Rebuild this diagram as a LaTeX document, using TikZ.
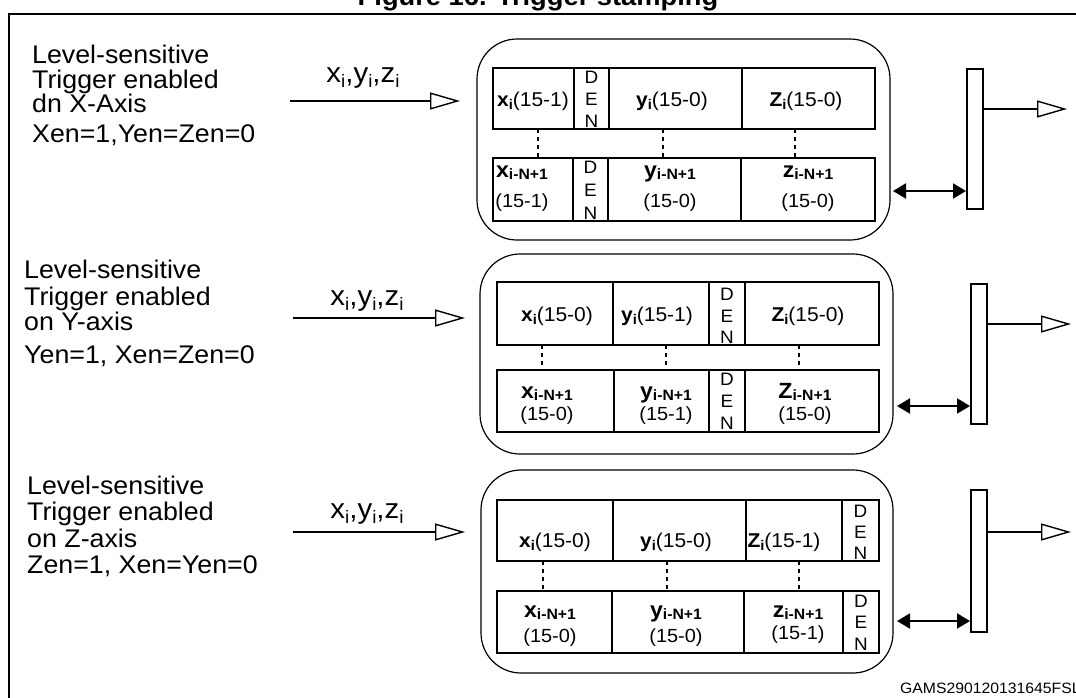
\documentclass[tikz,border=0pt]{standalone}
\usepackage{fontspec}
\setmainfont{Liberation Sans}[FakeStretch=1.05]
\usetikzlibrary{arrows.meta}
\newcommand{\vx}[2]{{\bfseries #1}\raisebox{-3.5pt}{\fontsize{14}{14}\selectfont\bfseries #2}}
\newcommand{\vxx}[2]{{\fontsize{22}{22}\selectfont\bfseries #1}\raisebox{-2.5pt}{\fontsize{15}{15}\selectfont\bfseries #2}}
\newcommand{\ri}{\raisebox{-5pt}{\fontsize{18}{18}\selectfont i}}
\tikzset{
  rowline/.style={draw, line width=2pt},
  rbox/.style={draw, line width=1.2pt, rounded corners=40pt},
  dots/.style={line width=2pt, dash pattern=on 4pt off 4pt},
  inarrow/.style={line width=1.4pt, -{Triangle[open,length=30pt,width=17pt,line width=1.4pt]}},
  dblarrow/.style={line width=2pt, {Triangle[length=13pt,width=15pt]}-{Triangle[length=13pt,width=15pt]}},
  barbox/.style={draw, line width=2pt, minimum width=16pt, inner sep=0pt},
  lbl/.style={font=\fontsize{25.5}{25}\selectfont, anchor=base west, inner sep=0pt},
  arrlbl/.style={font=\fontsize{28}{28}\selectfont, anchor=base, inner sep=0pt},
  celltop/.style={font=\fontsize{20}{20}\selectfont, anchor=base, inner sep=0pt},
  cellbot/.style={font=\fontsize{19}{19}\selectfont, anchor=base, inner sep=0pt},
  den/.style={font=\fontsize{18}{18}\selectfont, anchor=base, inner sep=0pt},
}
\begin{document}
\begin{tikzpicture}[x=1pt,y=-1pt]
\useasboundingbox (0,0) rectangle (1076,697);
\clip (0,0) rectangle (1076,697);
% title and frame
\node[font=\fontsize{26}{26}\selectfont\bfseries, anchor=base, inner sep=0pt] (title) at (538,5) {Figure 16. Trigger stamping};
\draw[line width=2.5pt] (9,720) -- (9,14) -- (1090,14);
\node[font=\fontsize{15}{15}\selectfont, anchor=base west, inner sep=0pt] (code) at (900,693) {GAMS290120131645FSL};

% ================= Panel 1 =================
\node[lbl] (l1a) at (32,63) {Level-sensitive};
\node[lbl] (l1b) at (32,88) {Trigger enabled};
\node[lbl] (l1c) at (32,112) {dn X-Axis};
\node[lbl] (l1d) at (32,142) {Xen=1,Yen=Zen=0};
\coordinate (i1s) at (290,101);
\coordinate (i1e) at (460,101);
\draw[inarrow] (i1s) -- (i1e);
\node[arrlbl] (a1) at (363,82) {x\ri,y\ri,z\ri};
\draw[rbox] (477,39) rectangle (890,240);
\draw[rowline] (493,68) rectangle (875,129);
\draw[rowline] (574,68) -- (574,129) (609,68) -- (609,129) (742,68) -- (742,129);
\draw[rowline] (493,158) rectangle (875,221);
\draw[rowline] (573,158) -- (573,221) (608,158) -- (608,221) (741,158) -- (741,221);
\draw[dots] (538,129) -- (538,158) (663,129) -- (663,158) (795,129) -- (795,158);
\node[celltop] (c1t1) at (533,106) {\vx{x}{i}(15-1)};
\node[den] (c1t2a) at (591.5,83) {D};
\node[den] (c1t2b) at (591.5,105) {E};
\node[den] (c1t2c) at (591.5,127) {N};
\node[celltop] (c1t3) at (672,106) {\vx{y}{i}(15-0)};
\node[celltop] (c1t4) at (806,106) {\vx{Z}{i}(15-0)};
\node[cellbot] (c1b1a) at (522,177) {\vxx{x}{i-N+1}};
\node[cellbot] (c1b1b) at (522,207) {(15-1)};
\node[den] (c1b2a) at (590.5,173) {D};
\node[den] (c1b2b) at (590.5,196) {E};
\node[den] (c1b2c) at (590.5,219) {N};
\node[cellbot] (c1b3a) at (670,177) {\vxx{y}{i-N+1}};
\node[cellbot] (c1b3b) at (670,207) {(15-0)};
\node[cellbot] (c1b4a) at (808,177) {\vxx{z}{i-N+1}};
\node[cellbot] (c1b4b) at (808,207) {(15-0)};
\node[barbox, minimum height=140pt] (bar1) at (975,139) {};
\coordinate (d1) at (893,191);
\draw[dblarrow] (d1) -- (bar1.west |- d1);
\coordinate (o1) at (1067,109);
\draw[inarrow] (bar1.east |- o1) -- (o1);

% ================= Panel 2 =================
\node[lbl] (l2a) at (24,278) {Level-sensitive};
\node[lbl] (l2b) at (24,305) {Trigger enabled};
\node[lbl] (l2c) at (24,330) {on Y-axis};
\node[lbl] (l2d) at (24,363) {Yen=1, Xen=Zen=0};
\coordinate (i2s) at (293,318);
\coordinate (i2e) at (465,318);
\draw[inarrow] (i2s) -- (i2e);
\node[arrlbl] (a2) at (367,305) {x\ri,y\ri,z\ri};
\draw[rbox] (480,254) rectangle (893,454);
\draw[rowline] (497,282) rectangle (879,345);
\draw[rowline] (613,282) -- (613,345) (709,282) -- (709,345) (745,282) -- (745,345);
\draw[rowline] (497,370) rectangle (879,432);
\draw[rowline] (614,370) -- (614,432) (709,370) -- (709,432) (745,370) -- (745,432);
\draw[dots] (542,345) -- (542,370) (666,345) -- (666,370) (799,345) -- (799,370);
\node[celltop] (c2t1) at (557,321) {\vx{x}{i}(15-0)};
\node[celltop] (c2t2) at (657,321) {\vx{y}{i}(15-1)};
\node[den] (c2t3a) at (727,300) {D};
\node[den] (c2t3b) at (727,322) {E};
\node[den] (c2t3c) at (727,343) {N};
\node[celltop] (c2t4) at (808,321) {\vx{Z}{i}(15-0)};
\node[cellbot] (c2b1a) at (547,398) {\vxx{x}{i-N+1}};
\node[cellbot] (c2b1b) at (547,420) {(15-0)};
\node[cellbot] (c2b2a) at (666,398) {\vxx{y}{i-N+1}};
\node[cellbot] (c2b2b) at (666,420) {(15-1)};
\node[den] (c2b3a) at (727,385) {D};
\node[den] (c2b3b) at (727,407) {E};
\node[den] (c2b3c) at (727,429) {N};
\node[cellbot] (c2b4a) at (805,398) {\vxx{Z}{i-N+1}};
\node[cellbot] (c2b4b) at (805,420) {(15-0)};
\node[barbox, minimum height=140pt] (bar2) at (979,354) {};
\coordinate (d2) at (897,406);
\draw[dblarrow] (d2) -- (bar2.west |- d2);
\coordinate (o2) at (1071,324);
\draw[inarrow] (bar2.east |- o2) -- (o2);

% ================= Panel 3 =================
\node[lbl] (l3a) at (27,494) {Level-sensitive};
\node[lbl] (l3b) at (27,520) {Trigger enabled};
\node[lbl] (l3c) at (27,547) {on Z-axis};
\node[lbl] (l3d) at (27,573) {Zen=1, Xen=Yen=0};
\coordinate (i3s) at (293,532);
\coordinate (i3e) at (465,532);
\draw[inarrow] (i3s) -- (i3e);
\node[arrlbl] (a3) at (367,518) {x\ri,y\ri,z\ri};
\draw[rbox] (481,470) rectangle (893,673);
\draw[rowline] (497,500) rectangle (879,561);
\draw[rowline] (613,500) -- (613,561) (746,500) -- (746,561) (842,500) -- (842,561);
\draw[rowline] (497,591) rectangle (879,653);
\draw[rowline] (612,591) -- (612,653) (744,591) -- (744,653) (843,591) -- (843,653);
\draw[dots] (543,561) -- (543,591) (667,561) -- (667,591) (799,561) -- (799,591);
\node[celltop] (c3t1) at (555,547) {\vx{x}{i}(15-0)};
\node[celltop] (c3t2) at (676,547) {\vx{y}{i}(15-0)};
\node[celltop] (c3t3) at (784,547) {\vx{Z}{i}(15-1)};
\node[den] (c3t4a) at (860.5,517) {D};
\node[den] (c3t4b) at (860.5,538) {E};
\node[den] (c3t4c) at (860.5,559) {N};
\node[cellbot] (c3b1a) at (550,617) {\vxx{x}{i-N+1}};
\node[cellbot] (c3b1b) at (550,642) {(15-0)};
\node[cellbot] (c3b2a) at (676,617) {\vxx{y}{i-N+1}};
\node[cellbot] (c3b2b) at (676,642) {(15-0)};
\node[cellbot] (c3b3a) at (798,617) {\vxx{z}{i-N+1}};
\node[cellbot] (c3b3b) at (798,639) {(15-1)};
\node[den] (c3b4a) at (861,607) {D};
\node[den] (c3b4b) at (861,628) {E};
\node[den] (c3b4c) at (861,650) {N};
\node[barbox, minimum height=142pt] (bar3) at (979,561) {};
\coordinate (d3) at (897,621);
\draw[dblarrow] (d3) -- (bar3.west |- d3);
\coordinate (o3) at (1071,532);
\draw[inarrow] (bar3.east |- o3) -- (o3);
\end{tikzpicture}
\end{document}
